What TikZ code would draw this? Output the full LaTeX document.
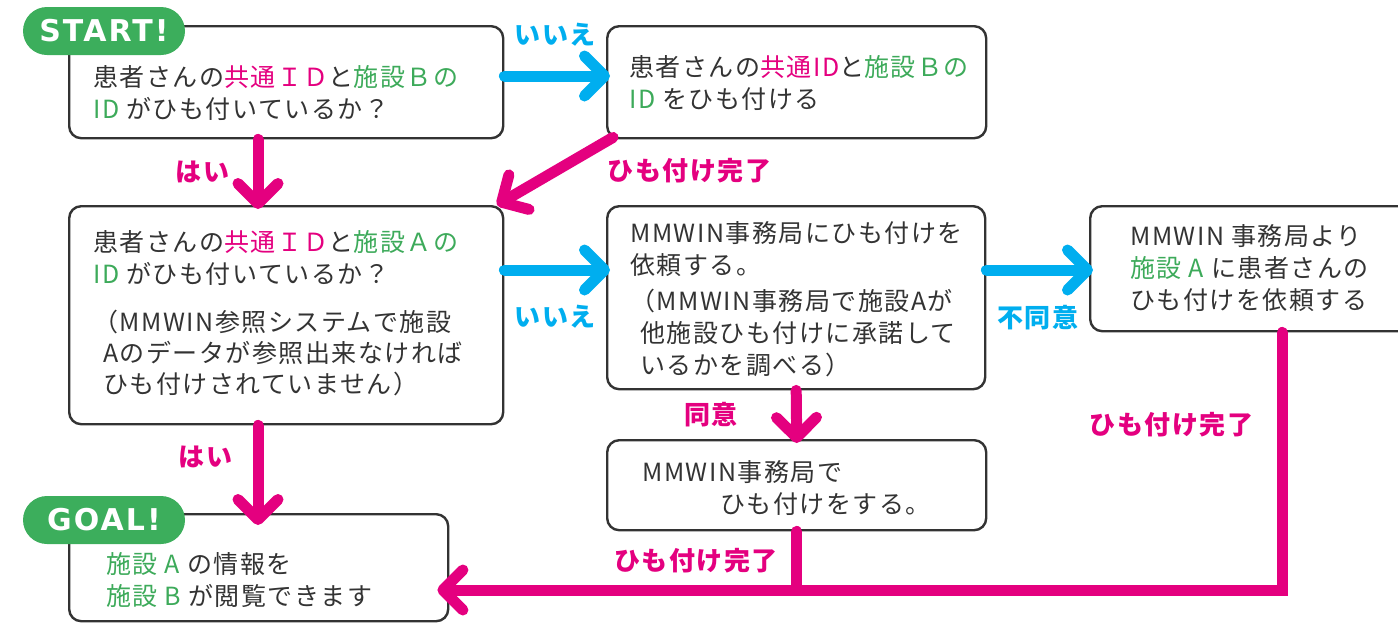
\documentclass[tikz,border=0pt]{standalone}
\usepackage{fontspec}
\setmainfont{Noto Sans CJK JP}[LetterSpace=6]
\newfontfamily\pillfont[LetterSpace=7]{DejaVu Sans}
\usetikzlibrary{arrows.meta}

\definecolor{flowpink}{HTML}{E4007F}
\definecolor{flowcyan}{HTML}{00AEEF}
\definecolor{flowgreen}{HTML}{3CAE5C}
\definecolor{idgreen}{HTML}{3DAA5A}
\definecolor{inkgray}{HTML}{333333}

\newcommand{\idg}[1]{\textcolor{idgreen}{#1}}
\newcommand{\idp}[1]{\textcolor{flowpink}{#1}}

\tikzset{
  stepbox/.style={draw=inkgray, line width=2.4pt, rounded corners=12pt, anchor=north west, inner sep=0pt},
  boxtext/.style={anchor=west, align=left, inner sep=0pt, text=inkgray, font=\fontsize{25}{32}\selectfont},
  pill/.style={fill=flowgreen, text=white, rounded corners=24pt, minimum width=162pt, minimum height=48pt, font=\pillfont\bfseries\fontsize{30}{30}\selectfont},
  yesarrow/.style={draw=flowpink, line width=11pt, line cap=round, -{Straight Barb[length=20pt,width=40pt,round]}, shorten >=-4pt},
  noarrow/.style={yesarrow, draw=flowcyan},
  yesline/.style={draw=flowpink, line width=11pt, line cap=round},
  yeslabel/.style={text=flowpink, font=\bfseries\fontsize{26}{26}\selectfont},
  nolabel/.style={yeslabel, text=flowcyan},
}

\begin{document}
\begin{tikzpicture}[x=1pt, y=-1pt]
\useasboundingbox (0,0) rectangle (1398,622);

% boxes
\node[stepbox, minimum width=434pt, minimum height=112pt] (q1) at (68,25) {};
\node[stepbox, minimum width=379pt, minimum height=112pt] (link) at (606,25) {};
\node[stepbox, minimum width=434pt, minimum height=218pt] (q2) at (68,205) {};
\node[stepbox, minimum width=378pt, minimum height=183pt] (req) at (606,205) {};
\node[stepbox, minimum width=384pt, minimum height=125pt] (ask) at (1089,205) {};
\node[stepbox, minimum width=379pt, minimum height=90pt] (done) at (606,439) {};
\node[stepbox, minimum width=379pt, minimum height=107pt] (goal) at (68,513) {};

% texts in the boxes
\node[boxtext] (q1text) at (93,93.5) {患者さんの\idp{共通ＩＤ}と\idg{施設Ｂの}\\\idg{ID} がひも付いているか？};
\node[boxtext] (linktext) at (629,83) {患者さんの\idp{共通ID}と\idg{施設Ｂの}\\\idg{ID} をひも付ける};
\node[boxtext] (q2text) at (93,313.5) {患者さんの\idp{共通ＩＤ}と\idg{施設Ａの}\\\idg{ID} がひも付いているか？\\[16pt]（MMWIN参照システムで施設\\[-1pt]\hspace{10pt}Aのデータが参照出来なければ\\[-1pt]\hspace{10pt}ひも付けされていません）};
\node[boxtext] (reqtext) at (630,299) {MMWIN事務局にひも付けを\\依頼する。\\[4pt]（MMWIN事務局で施設Aが\\\hspace{10pt}他施設ひも付けに承諾して\\\hspace{10pt}いるかを調べる）};
\node[boxtext] (asktext) at (1130,268.5) {MMWIN 事務局より\\\idg{施設 A} に患者さんの\\ひも付けを依頼する};
\node[boxtext] (donetext) at (642,488.5) {MMWIN事務局で\\\hspace{78pt}ひも付けをする。};
\node[boxtext] (goaltext) at (106,580) {\idg{施設 A} の情報を\\\idg{施設 B} が閲覧できます};

% start and goal tags
\node[pill] (start) at (104,31) {START!};
\node[pill] (finish) at (104,520) {GOAL!};

% connectors
\coordinate (row1) at (0,76);
\coordinate (row2) at (0,270);
\coordinate (col1) at (258,0);
\coordinate (merge) at (0,590);

\draw[noarrow] (q1.east |- row1) -- node[nolabel, above=21pt] (no1) {いいえ} (link.west |- row1);
\draw[yesarrow] ([xshift=7pt,yshift=2pt]link.south west) -- node[yeslabel, right=42pt] (linked1) {ひも付け完了} ([xshift=-4pt,yshift=2pt]q2.north east);
\draw[yesarrow] (q1.south -| col1) -- node[yeslabel, left=20pt] (yes1) {はい} (q2.north -| col1);
\draw[noarrow] (q2.east |- row2) -- node[nolabel, below=26pt] (no2) {いいえ} (req.west |- row2);
\draw[noarrow] (req.east |- row2) -- node[nolabel, below=26pt] (refuse) {不同意} (ask.west |- row2);
\draw[yesarrow] (req.south) -- node[yeslabel, left=50pt] (agree) {同意} (done.north);
\draw[yesarrow, shorten >=-12pt] (q2.south -| col1) -- node[yeslabel, pos=0.36, left=17pt] (yes2) {はい} (goal.north -| col1);
\draw[yesline] (done.south) -- node[yeslabel, left=10pt] (linked2) {ひも付け完了} (done.south |- merge);
\draw[yesarrow, shorten >=-12pt] (ask.south) |- node[yeslabel, pos=0.18, left=20pt] (linked3) {ひも付け完了} (goal.east |- merge);
\end{tikzpicture}
\end{document}
